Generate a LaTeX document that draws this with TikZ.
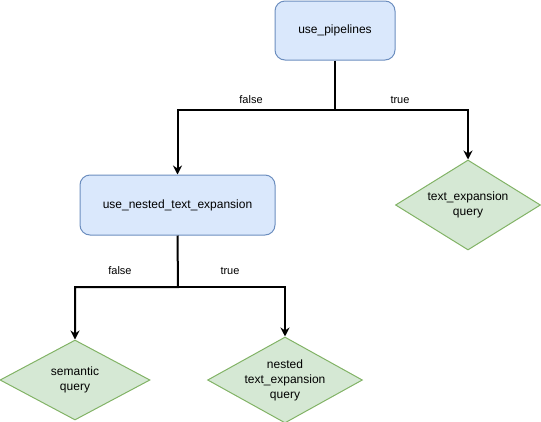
\documentclass[tikz,border=0pt]{standalone}
\usepackage{fontspec}
\setmainfont{Liberation Sans}
\usetikzlibrary{shapes.geometric,arrows.meta}
\definecolor{bfill}{HTML}{DAE8FC}
\definecolor{bdraw}{HTML}{6C8EBF}
\definecolor{gfill}{HTML}{D5E8D4}
\definecolor{gdraw}{HTML}{82B366}
\tikzset{
  decision/.style={rectangle, rounded corners=10pt, draw=bdraw, fill=bfill, line width=1pt, font=\fontsize{12}{14}\selectfont, inner sep=0pt},
  result/.style={diamond, draw=gdraw, fill=gfill, line width=1pt, font=\fontsize{12}{15}\selectfont, align=center, inner sep=0pt, aspect=1.8},
  link/.style={line width=2pt, -{Stealth[length=9pt,width=9pt,inset=3pt]}},
  lbl/.style={font=\fontsize{11}{13}\selectfont, inner sep=0pt}
}
\begin{document}
\begin{tikzpicture}[x=1pt,y=-1pt]
\useasboundingbox (0,0) rectangle (541,421);
\node[decision, minimum width=120pt, minimum height=59pt] (pipe) at (335,30.5) {use\_pipelines};
\node[decision, minimum width=195pt, minimum height=60pt] (nested) at (177.5,205) {use\_nested\_text\_expansion};
\node[result, minimum width=145pt, minimum height=90pt] (texp) at (468,205) {text\_expansion\\query};
\node[result, minimum width=150pt, minimum height=80pt] (sem) at (75,380) {semantic\\query};
\node[result, minimum width=150pt, minimum height=80pt] (nte) at (285,380) {nested\\text\_expansion\\query};
\coordinate (j1) at (335,110);
\coordinate (j2) at (178,287);
\draw[link] (pipe.south) -- (j1) -| (nested.north);
\draw[link] (j1) -| (texp.north);
\draw[link] (nested.south) -- (j2) -| (sem.north);
\draw[link] (j2) -| (nte.north);
\node[lbl] (f1) at (251,100) {false};
\node[lbl] (t1) at (400,100) {true};
\node[lbl] (f2) at (120,271) {false};
\node[lbl] (t2) at (230,271) {true};
\end{tikzpicture}
\end{document}
